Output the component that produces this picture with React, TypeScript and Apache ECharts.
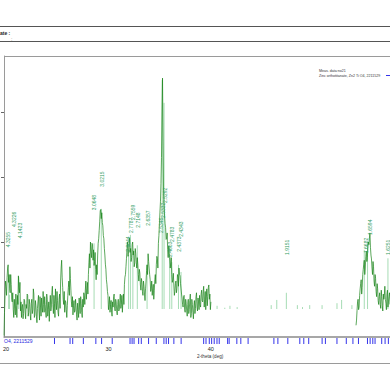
import React, { useEffect, useRef } from "react";
import * as echarts from "echarts";

// Measured scan, counts at 2-theta = start + i*0.1 and at the half steps in between
const scanStep = 0.1;
const scan1Start = 20.0;
const scan1Counts = [
  56, 118, 132, 145, 165, 150, 122, 135, 108, 96,
  112, 88, 102, 118, 148, 122, 94, 84, 104, 90,
  110, 82, 98, 118, 92, 104, 80, 112, 96, 120,
  88, 102, 76, 108, 94, 116, 86, 100, 124, 92,
  104, 84, 112, 96, 78, 118, 100, 132, 90, 106,
  128, 96, 110, 86, 120, 140, 172, 130, 104, 92,
  108, 84, 118, 140, 162, 126, 100, 88, 110, 94,
  102, 80, 96, 114, 90, 106, 84, 100, 118, 126,
  112, 138, 150, 182, 200, 176, 196, 188, 170, 158,
  165, 180, 205, 232, 250, 245, 225, 205, 180, 158,
  135, 118, 104, 92, 110, 86, 100, 120, 94, 108,
  88, 112, 96, 120, 104, 92, 120, 135, 150, 175,
  200, 186, 206, 190, 176, 200, 186, 168, 182, 160,
  166, 140, 152, 126, 138, 118, 132, 110, 140, 165,
  182, 160, 142, 128, 118, 135, 125, 150, 165, 175,
  198, 228, 262, 330, 452, 280, 240, 222, 205, 188,
  194, 176, 168, 150, 142, 134, 124, 140, 128, 146,
  160, 148, 128, 114, 100, 118, 92, 106, 86, 112,
  96, 120, 90, 104, 82, 110, 98, 122, 94, 108,
  118, 100, 126, 108, 132, 112, 96, 128, 116, 134,
  120, 108,
];
const scan1HalfCounts = [
  92, 140, 118, 160, 138, 128, 150, 112, 122, 84,
  98, 120, 84, 104, 130, 138, 108, 100, 82, 112,
  94, 104, 120, 86, 112, 88, 106, 90, 128, 84,
  110, 86, 98, 118, 80, 100, 114, 92, 104, 116,
  92, 120, 86, 108, 102, 94, 122, 104, 118, 84,
  108, 124, 92, 112, 98, 160, 146, 112, 124, 110,
  96, 102, 130, 118, 144, 108, 116, 102, 92, 112,
  88, 106, 84, 100, 116, 92, 112, 122, 104, 140,
  128, 120, 168, 160, 186, 198, 172, 164, 184, 142,
  150, 198, 218, 248, 236, 230, 210, 190, 166, 142,
  124, 96, 116, 104, 92, 108, 116, 98, 112, 94,
  104, 94, 110, 98, 118, 108, 104, 146, 162, 190,
  178, 198, 184, 170, 196, 180, 162, 190, 168, 176,
  150, 158, 134, 144, 124, 140, 120, 128, 156, 150,
  170, 150, 124, 140, 128, 112, 142, 136, 178, 160,
  210, 246, 290, 400, 360, 256, 228, 204, 214, 176,
  182, 160, 176, 138, 152, 118, 136, 122, 150, 132,
  150, 136, 120, 104, 116, 96, 112, 94, 104, 90,
  110, 84, 112, 92, 102, 90, 116, 100, 114, 96,
  104, 120, 110, 124, 100, 124, 114, 102, 130, 112,
  96,
];
const scan2Start = 54.2;
const scan2Counts = [
  72, 95, 112, 100, 128, 142, 130, 158,
  172, 160, 186, 176, 200, 206, 192, 174, 150, 162,
  132, 144, 116, 128, 104, 122, 98, 116, 94, 112,
  132, 106, 120, 100, 116, 104,
];
const scan2HalfCounts = [
  80, 108, 96, 118, 136, 120, 150, 166, 150, 178, 170, 192, 196, 214, 180, 160,
  170, 140, 150, 124, 136, 110, 116, 104, 126, 102, 120, 118, 112, 96, 126, 108, 122,
];

// Peak search sticks
const stickBaseline = 97;
const stickTheta = [
  20.45, 20.53, 21.43, 28.75, 29.45, 30.4, 32.1, 32.28, 32.52, 32.95, 33.9,
  35.37, 35.55, 36.1, 36.3, 36.95, 37.2, 40.7, 41.45, 41.95, 42.65, 45.96,
  46.5, 47.43, 48.5, 49.0, 49.7, 50.9, 52.35, 52.8, 53.8, 55.0, 55.32, 57.3,
];
const stickCounts = [
  142, 119, 146, 198, 251, 111, 180, 211, 188, 195, 165,
  449, 414, 195, 169, 165, 154, 102, 99, 102, 100, 103,
  111, 122, 103, 100, 103, 103, 106, 111, 103, 188, 200, 175,
];

// Reference card lines (Zinc orthotitanate)
const refTheta = [
  24.73, 26.25, 26.51, 27.55, 28.77, 29.33, 30.37, 32.11, 32.31, 32.5, 32.95,
  33.21, 33.92, 34.67, 35.42, 35.64, 35.87, 36.39, 37.1, 39.3, 39.53, 39.85,
  40.08, 40.33, 40.6, 40.82, 41.64, 41.79, 42.54, 42.93, 43.64, 46.16, 46.55,
  47.52, 48.69, 49.08, 49.56, 50.87, 51.19, 52.32, 53.23, 53.88, 54.42, 55.3,
  55.56, 55.82, 56.04, 56.69, 57.02, 57.34,
];

// d-spacing labels
const peakLabelText = [
  "4.3255", "4.3226", "4.1423", "3.0648", "3.0215", "2.9044", "2.7787", "2.7559",
  "2.7148", "2.6357", "2.5346", "2.5332", "2.5292", "2.4603", "2.4783", "2.4373",
  "2.4343", "1.9151", "1.6682", "1.6594", "1.6251",
];
const peakLabelTheta = [
  20.39, 20.97, 21.55, 28.74, 29.52, 32.05, 32.34, 32.53,
  33.02, 34.0, 35.25, 35.45, 35.64, 36.13, 36.32, 37.0,
  37.2, 47.49, 55.17, 55.56, 57.31,
];
const peakLabelCounts = [
  192, 223, 206, 249, 285, 185, 214, 234,
  222, 225, 214, 237, 260, 177, 200, 185,
  208, 180, 183, 211, 180,
];

const xTicks = [20, 30, 40, 50];
const yTicks = [100, 200, 300, 400];

const FONT = '"Liberation Sans", Arial, sans-serif';

function buildScan(start: number, full: number[], half: number[]) {
  const out: number[][] = [];
  full.forEach((c, i) => {
    out.push([Number((start + i * scanStep).toFixed(3)), c]);
    if (i < half.length) {
      out.push([Number((start + (i + 0.5) * scanStep).toFixed(3)), half[i]]);
    }
  });
  return out;
}

export default function App() {
  const ref = useRef<HTMLDivElement>(null);
  useEffect(() => {
    if (!ref.current) return;
    const chart = echarts.init(ref.current, undefined, { renderer: "svg" });

    const scan1 = buildScan(scan1Start, scan1Counts, scan1HalfCounts);
    const scan2 = buildScan(scan2Start, scan2Counts, scan2HalfCounts);
    const sticks = stickTheta.map((t, i) => [t, stickBaseline, stickCounts[i]]);
    const labels = peakLabelTheta.map((t, i) => [t, peakLabelCounts[i]]);
    const refs = refTheta.map((t) => [t, 0, 1]);

    const option: any = {
      animation: false,
      backgroundColor: "#ffffff",
      grid: [
        { left: 4, right: 0, top: 56, height: 281, show: false },
        { left: 4, right: 0, top: 338, height: 6, show: false },
      ],
      xAxis: [
        {
          type: "value",
          gridIndex: 0,
          min: 20,
          max: 57.5,
          interval: 10,
          axisLine: { show: true, lineStyle: { color: "#8a8a8a", width: 1.5 } },
          axisTick: { show: false },
          axisLabel: { show: false },
          splitLine: { show: false },
        },
        {
          type: "value",
          gridIndex: 1,
          min: 20,
          max: 57.5,
          interval: 10,
          axisLine: { show: false },
          axisTick: { show: false },
          axisLabel: {
            show: true,
            fontSize: 5.5,
            fontFamily: FONT,
            color: "#222",
            margin: 2,
            showMaxLabel: false,
            customValues: xTicks,
          },
          splitLine: { show: false },
        },
      ],
      yAxis: [
        {
          type: "value",
          gridIndex: 0,
          min: 54,
          max: 486,
          axisLine: { show: true, lineStyle: { color: "#9a9a9a", width: 1 } },
          axisTick: {
            show: true,
            inside: false,
            length: 3,
            lineStyle: { color: "#666" },
            customValues: yTicks,
          },
          axisLabel: { show: false, customValues: yTicks },
          splitLine: { show: false },
        },
        { type: "value", gridIndex: 1, min: 0, max: 1, show: false },
      ],
      series: [
        {
          type: "custom",
          name: "sticks",
          xAxisIndex: 0,
          yAxisIndex: 0,
          data: sticks,
          renderItem: (_p: any, api: any) => {
            const a = api.coord([api.value(0), api.value(1)]);
            const b = api.coord([api.value(0), api.value(2)]);
            return {
              type: "line",
              shape: { x1: a[0], y1: a[1], x2: b[0], y2: b[1] },
              style: { stroke: "#a6dcb4", lineWidth: 1 },
            };
          },
          z: 1,
        },
        {
          type: "line",
          name: "scan1",
          xAxisIndex: 0,
          yAxisIndex: 0,
          data: scan1,
          showSymbol: false,
          symbol: "none",
          lineStyle: { color: "#178217", width: 0.7 },
          z: 2,
        },
        {
          type: "line",
          name: "scan2",
          xAxisIndex: 0,
          yAxisIndex: 0,
          data: scan2,
          showSymbol: false,
          symbol: "none",
          lineStyle: { color: "#178217", width: 0.7 },
          z: 2,
        },
        {
          type: "custom",
          name: "labels",
          xAxisIndex: 0,
          yAxisIndex: 0,
          data: labels,
          clip: false,
          renderItem: (p: any, api: any) => {
            const a = api.coord([api.value(0), api.value(1)]);
            return {
              type: "text",
              x: a[0],
              y: a[1],
              rotation: Math.PI / 2,
              style: {
                text: peakLabelText[p.dataIndex],
                fill: "#2f9d63",
                font: `5px ${FONT}`,
                align: "left",
                verticalAlign: "middle",
              },
            };
          },
          z: 3,
        },
        {
          type: "custom",
          name: "reference",
          xAxisIndex: 1,
          yAxisIndex: 1,
          data: refs,
          renderItem: (_p: any, api: any) => {
            const a = api.coord([api.value(0), api.value(1)]);
            const b = api.coord([api.value(0), api.value(2)]);
            return {
              type: "line",
              shape: { x1: a[0], y1: a[1], x2: b[0], y2: b[1] },
              style: { stroke: "#3434ea", lineWidth: 1 },
            };
          },
        },
      ],
      graphic: [
        { type: "line", shape: { x1: 0, y1: 26.5, x2: 390, y2: 26.5 }, style: { stroke: "#555", lineWidth: 1 } },
        { type: "line", shape: { x1: 0, y1: 41.5, x2: 390, y2: 41.5 }, style: { stroke: "#555", lineWidth: 1 } },
        { type: "text", x: 0, y: 30, style: { text: "ate :", font: `bold 5px ${FONT}`, fill: "#222" } },
        { type: "text", x: 11, y: 36, style: { text: ":", font: `5px ${FONT}`, fill: "#666" } },
        { type: "line", shape: { x1: 4, y1: 56.5, x2: 390, y2: 56.5 }, style: { stroke: "#9a9a9a", lineWidth: 1 } },
        { type: "line", shape: { x1: 0, y1: 363.5, x2: 390, y2: 363.5 }, style: { stroke: "#9a9a9a", lineWidth: 1 } },
        { type: "text", x: 319, y: 69, style: { text: "Meas. data:no21", font: `3.6px ${FONT}`, fill: "#333" } },
        { type: "text", x: 319, y: 73.5, style: { text: "Zinc orthotitanate, Zn2 Ti O4, 2211529", font: `3.6px ${FONT}`, fill: "#333" } },
        { type: "line", shape: { x1: 386, y1: 75.5, x2: 390, y2: 75.5 }, style: { stroke: "#3434ea", lineWidth: 1 } },
        { type: "text", x: 4, y: 338.5, style: { text: "O4, 2211529", font: `5px ${FONT}`, fill: "#2a2ae0" } },
        { type: "text", x: 197, y: 353.5, style: { text: "2-theta (deg)", font: `4.6px ${FONT}`, fill: "#333" } },
      ],
    };
    chart.setOption(option);
    return () => chart.dispose();
  }, []);
  return (
    <div
      ref={ref}
      style={{ position: "absolute", left: 0, top: 0, width: 390, height: 390, background: "#fff" }}
    />
  );
}
